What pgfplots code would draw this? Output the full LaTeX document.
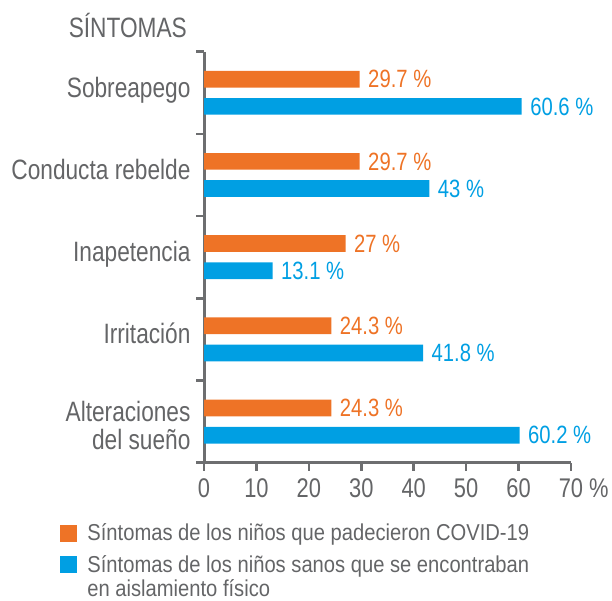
\documentclass[border=0pt]{standalone}
\usepackage{fontspec}
\setmainfont{Liberation Sans}[FakeStretch=0.81]
\newfontfamily\legfont{Liberation Sans}[FakeStretch=0.877]
\usepackage{pgfplots}
\pgfplotsset{compat=1.18}
\definecolor{corange}{HTML}{EE7326}
\definecolor{cblue}{HTML}{009FE3}
\definecolor{cgray}{HTML}{646567}
\definecolor{agray}{HTML}{6D6E70}
\begin{document}
\begin{tikzpicture}
\path[use as bounding box] (0,0) rectangle (612pt,601pt);
\node[anchor=base east, font=\fontsize{28}{30}\selectfont, text=cgray, inner sep=0pt] at (187pt,563pt) {SÍNTOMAS};
\begin{axis}[
  at={(204pt,138.3pt)}, anchor=south west,
  scale only axis, width=367pt, height=411pt,
  xmin=0, xmax=70, ymin=0, ymax=5,
  axis lines*=left,
  axis line style={-, line width=3pt, draw=agray},
  xbar, bar width=16.7pt,
  /pgf/number format/assume math mode=true,
  xtick={0,10,20,30,40,50,60,70},
  xticklabels={0,10,20,30,40,50,60,70\rlap{~\%}},
  ytick={0,1,2,3,4,5}, yticklabels={},
  tick align=outside, major tick length=8pt,
  tick style={line width=2.5pt, draw=agray},
  xticklabel style={font=\fontsize{27}{30}\selectfont, text=cgray, yshift=-4pt},
  extra y ticks={0.5,1.5,2.5,3.5,4.5},
  extra y tick labels={{\raisebox{4.5pt}{\begin{tabular}[t]{@{}r@{}}Alteraciones\\del sueño\end{tabular}}},Irritación,Inapetencia,Conducta rebelde,Sobreapego},
  extra y tick style={major tick length=0pt, yticklabel style={font=\fontsize{28}{24.5}\selectfont, text=cgray, anchor=base east, yshift=-4.5pt, xshift=-10pt}},
  nodes near coords={\pgfmathprintnumber{\pgfplotspointmeta}~\%},
  every node near coord/.append style={anchor=west, font=\fontsize{25}{30}\selectfont, xshift=5pt},
  legend cell align=left,
  legend image code/.code={\fill[corange] (0pt,-8.5pt) rectangle (17pt,8.5pt);},
  legend style={at={(axis description cs:-0.40,-0.139)}, anchor=north west, draw=none, fill=none,
    font=\legfont\fontsize{23}{24.5}\selectfont, text=cgray, cells={align=left}, row sep=9pt,
    /tikz/every odd column/.append style={column sep=8pt}},
]
\addplot[draw=none, fill=corange, bar shift=13.6pt, every node near coord/.append style={text=corange}]
  coordinates {(24.3,0.5) (24.3,1.5) (27,2.5) (29.7,3.5) (29.7,4.5)};
\addplot[draw=none, fill=cblue, bar shift=-13.6pt, every node near coord/.append style={text=cblue},
  legend image code/.code={\fill[cblue] (0pt,4pt) rectangle (17pt,21pt);}]
  coordinates {(60.2,0.5) (41.8,1.5) (13.1,2.5) (43,3.5) (60.6,4.5)};
\legend{Síntomas de los niños que padecieron COVID-19, {Síntomas de los niños sanos que se encontraban\\en aislamiento físico}}
\end{axis}
\end{tikzpicture}
\end{document}
